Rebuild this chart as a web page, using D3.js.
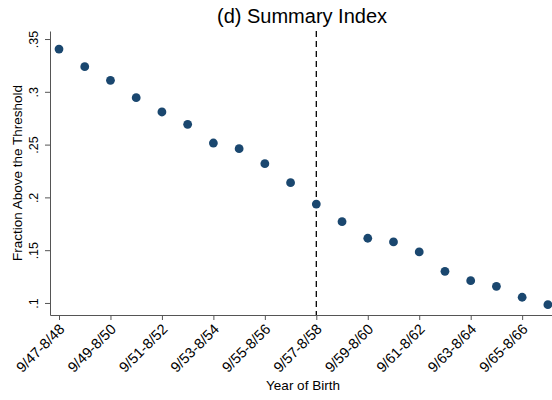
<!DOCTYPE html>
<html>
<head>
<meta charset="utf-8">
<script src="https://cdn.jsdelivr.net/npm/d3@7"></script>
<style>
  body { margin: 0; background: #fff; }
  svg { display: block; font-family: "Liberation Sans", Arial, sans-serif; }
</style>
</head>
<body>
<div id="chart"></div>
<script>
// cohorts (year of birth, Sept-Aug)
const cohorts = ['9/47-8/48', '9/48-8/49', '9/49-8/50', '9/50-8/51', '9/51-8/52',
    '9/52-8/53', '9/53-8/54', '9/54-8/55', '9/55-8/56', '9/56-8/57',
    '9/57-8/58', '9/58-8/59', '9/59-8/60', '9/60-8/61', '9/61-8/62',
    '9/62-8/63', '9/63-8/64', '9/64-8/65', '9/65-8/66', '9/66-8/67'];
const fraction = [0.3405, 0.3238, 0.3109, 0.2944, 0.2809, 0.2692, 0.2515, 0.2461, 0.2319, 0.2139,
    0.1937, 0.1770, 0.1613, 0.1578, 0.1483, 0.1300, 0.1211, 0.1158, 0.1054, 0.0984];
const yTicks = [0.1, 0.15, 0.2, 0.25, 0.3, 0.35];
const yTickLabels = ['.1', '.15', '.2', '.25', '.3', '.35'];
const xTicks = [0, 2, 4, 6, 8, 10, 12, 14, 16, 18];
const cutoff = 10;

const W = 552, H = 400;
const svg = d3.select('#chart').append('svg')
    .attr('width', W)
    .attr('height', H);

const x = d3.scaleLinear()
    .domain([-0.35, 19.16])
    .range([50, 552]);

const y = d3.scaleLinear()
    .domain([0.0886, 0.3576])
    .range([315, 31]);

// title
svg.append('text')
    .attr('x', 302)
    .attr('y', 23)
    .attr('text-anchor', 'middle')
    .style('font-size', '20px')
    .text('(d) Summary Index');

// cutoff line
svg.append('line')
    .attr('x1', x(cutoff)).attr('x2', x(cutoff))
    .attr('y1', 31).attr('y2', 315)
    .attr('stroke', '#000')
    .attr('stroke-width', 1.3)
    .attr('stroke-dasharray', '6,4');

// x axis
const xAxis = svg.append('g')
    .attr('transform', 'translate(0,315)')
    .call(d3.axisBottom(x)
        .tickValues(xTicks)
        .tickSize(5)
        .tickSizeOuter(0)
        .tickFormat(i => cohorts[i]))
    .attr('font-family', null)
    .attr('font-size', null);

xAxis.selectAll('path, line').attr('stroke', '#555');
xAxis.selectAll('text')
    .attr('text-anchor', 'end')
    .attr('x', 0)
    .attr('y', 0)
    .attr('dx', '0')
    .attr('dy', '0')
    .attr('fill', '#000')
    .style('font-size', '14.5px')
    .attr('transform', 'translate(6,15) rotate(-45)');

// y axis
const yAxis = svg.append('g')
    .attr('transform', 'translate(50,0)')
    .call(d3.axisLeft(y)
        .tickValues(yTicks)
        .tickSize(5)
        .tickSizeOuter(0)
        .tickFormat((d, i) => yTickLabels[i]))
    .attr('font-family', null)
    .attr('font-size', null);

yAxis.selectAll('path, line').attr('stroke', '#555');
yAxis.selectAll('text')
    .attr('text-anchor', 'middle')
    .attr('x', 0)
    .attr('dy', 0)
    .attr('fill', '#000')
    .style('font-size', '12.5px')
    .attr('transform', 'translate(-12,0) rotate(-90)');

// points
svg.selectAll('.dot')
    .data(fraction)
    .enter()
    .append('circle')
    .attr('class', 'dot')
    .attr('cx', (d, i) => x(i))
    .attr('cy', d => y(d))
    .attr('r', 4.4)
    .attr('fill', '#1a476f');

// axis titles
svg.append('text')
    .attr('x', 303)
    .attr('y', 390)
    .attr('text-anchor', 'middle')
    .style('font-size', '13.5px')
    .text('Year of Birth');

svg.append('text')
    .attr('transform', 'translate(22,173) rotate(-90)')
    .attr('text-anchor', 'middle')
    .style('font-size', '13.5px')
    .text('Fraction Above the Threshold');
</script>
</body>
</html>
